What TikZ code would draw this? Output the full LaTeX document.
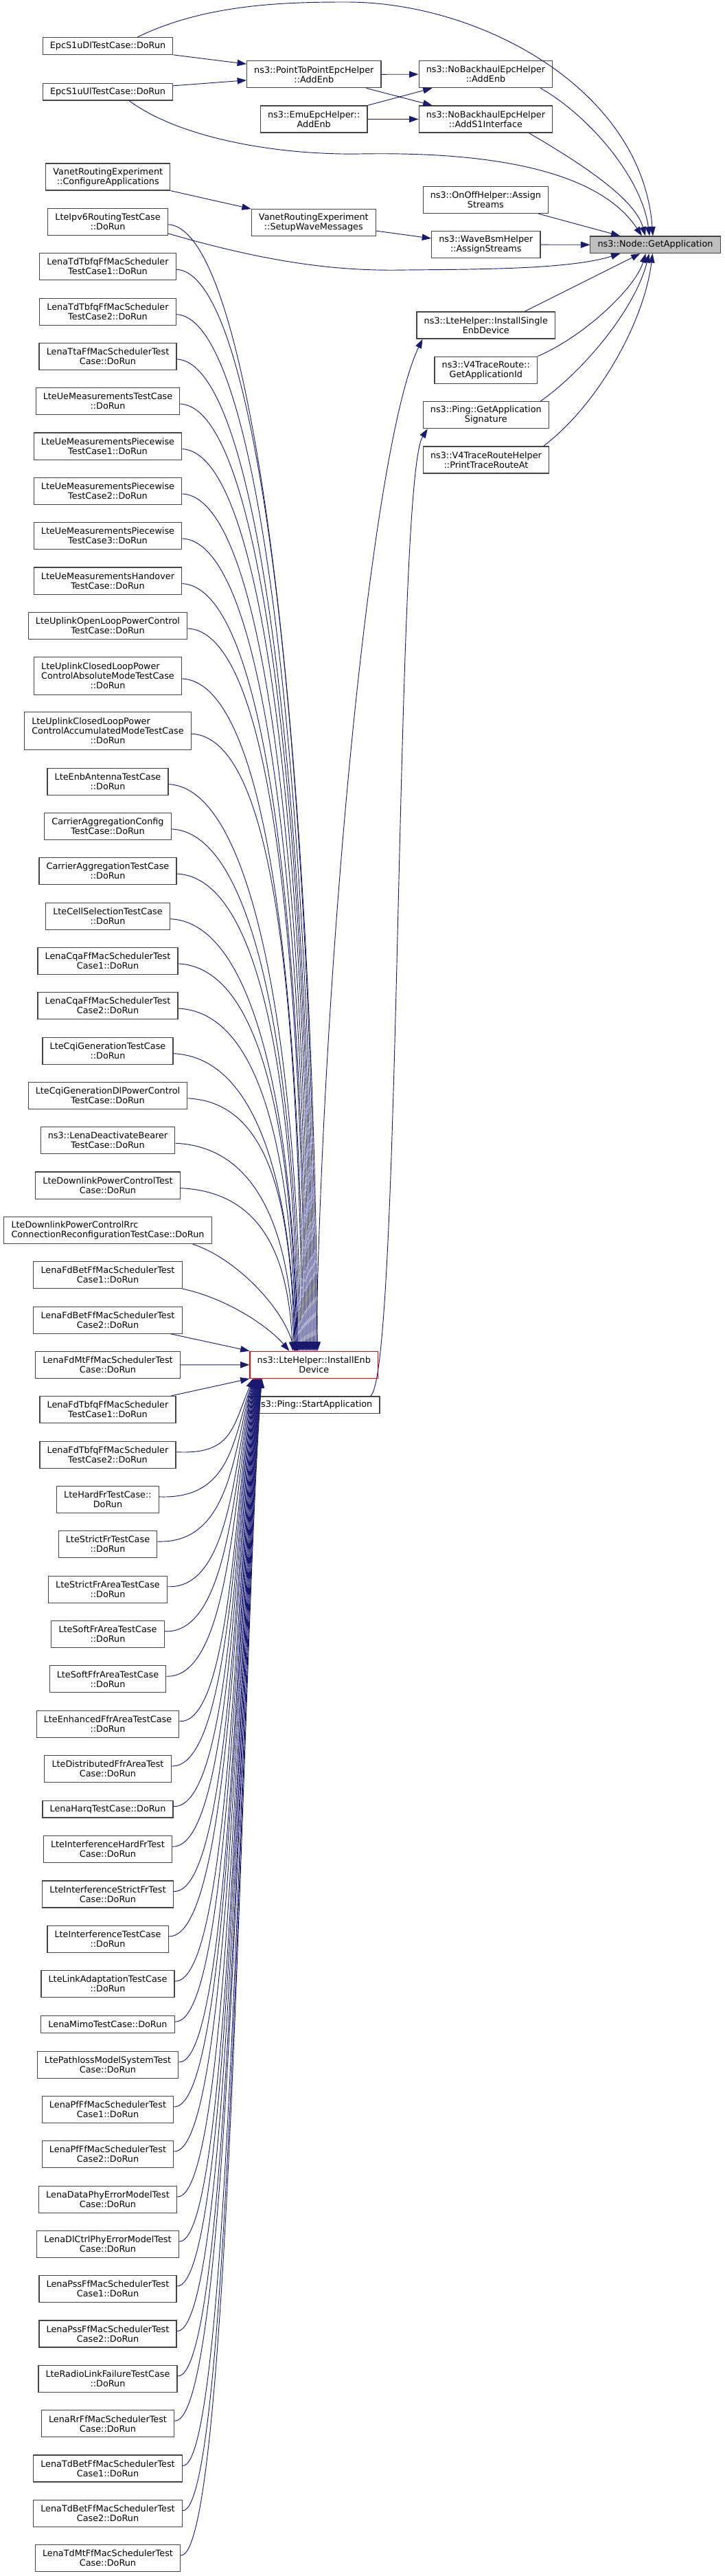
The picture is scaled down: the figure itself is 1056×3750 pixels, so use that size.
\documentclass[tikz,border=0pt]{standalone}
\usepackage{fontspec}
\setmainfont{DejaVu Sans}
\usetikzlibrary{arrows.meta,calc}
\definecolor{edgecol}{HTML}{191970}
\definecolor{boxcol}{HTML}{444444}
\definecolor{rootfill}{HTML}{BFBFBF}
\begin{document}
\begin{tikzpicture}[x=0.75pt,y=-0.75pt,
  box/.style={draw=boxcol, fill=white, line width=0.9pt, align=center, inner xsep=8pt, inner ysep=0pt, font=\fontsize{9.6}{10.5}\selectfont},
  b1/.style={box, minimum height=18.4pt},
  b2/.style={box, minimum height=29.3pt},
  b3/.style={box, minimum height=41.1pt},
  rootnode/.style={fill=rootfill},
  hl/.style={draw=red},
  conn/.style={draw=edgecol, line width=0.7pt, -{Triangle[length=10pt,width=7pt]}},
]
\useasboundingbox (0,0) rectangle (1056,3750);

% ---------- top / middle / right nodes ----------
\node[b1] (epcdl) at (157,67) {EpcS1uDlTestCase::DoRun};
\node[b1] (epcul) at (157,133.7) {EpcS1uUlTestCase::DoRun};
\node[b2] (p2p) at (457.3,108.3) {ns3::PointToPointEpcHelper\\::AddEnb};
\node[b2] (nbenb) at (707.4,108.2) {ns3::NoBackhaulEpcHelper\\::AddEnb};
\node[b2] (emu) at (457.2,173.5) {ns3::EmuEpcHelper::\\AddEnb};
\node[b2] (nbs1) at (707.4,173.5) {ns3::NoBackhaulEpcHelper\\::AddS1Interface};
\node[b2] (vanetconf) at (157.3,257.5) {VanetRoutingExperiment\\::ConfigureApplications};
\node[b2] (onoff) at (707.4,291) {ns3::OnOffHelper::Assign\\Streams};
\node[b2] (setupwave) at (456.8,324.2) {VanetRoutingExperiment\\::SetupWaveMessages};
\node[b2] (wavebsm) at (707.8,356.2) {ns3::WaveBsmHelper\\::AssignStreams};
\node[b1,rootnode] (getapp) at (954.5,356.3) {ns3::Node::GetApplication};
\node[b2] (installsingle) at (707.8,473.5) {ns3::LteHelper::InstallSingle\\EnbDevice};
\node[b2] (v4tr) at (707.8,538.8) {ns3::V4TraceRoute::\\GetApplicationId};
\node[b2] (pingsig) at (707.8,604.2) {ns3::Ping::GetApplication\\Signature};
\node[b2] (v4help) at (708,669.5) {ns3::V4TraceRouteHelper\\::PrintTraceRouteAt};
\node[b2,hl] (installenb) at (457.3,1986.8) {ns3::LteHelper::InstallEnb\\Device};
\node[b1] (pingstart) at (457.2,2045.3) {ns3::Ping::StartApplication};

% ---------- left column ----------
\node[b2] (ipv6) at (157,322.8) {LteIpv6RoutingTestCase\\::DoRun};
\node[b2] (tdtbfq1) at (157,388.2) {LenaTdTbfqFfMacScheduler\\TestCase1::DoRun};
\node[b2] (tdtbfq2) at (157,453.7) {LenaTdTbfqFfMacScheduler\\TestCase2::DoRun};
\node[b2] (tta) at (157,518.9) {LenaTtaFfMacSchedulerTest\\Case::DoRun};
\node[b2] (uemeas) at (157,584) {LteUeMeasurementsTestCase\\::DoRun};
\node[b2] (pw1) at (157,649.6) {LteUeMeasurementsPiecewise\\TestCase1::DoRun};
\node[b2] (pw2) at (157,714.9) {LteUeMeasurementsPiecewise\\TestCase2::DoRun};
\node[b2] (pw3) at (157,780) {LteUeMeasurementsPiecewise\\TestCase3::DoRun};
\node[b2] (handover) at (157,845.6) {LteUeMeasurementsHandover\\TestCase::DoRun};
\node[b2] (openloop) at (157,910.9) {LteUplinkOpenLoopPowerControl\\TestCase::DoRun};
\node[b3] (closedabs) at (157,984) {\rlap{LteUplinkClosedLoopPower}\phantom{ControlAbsoluteModeTestCase}\\ControlAbsoluteModeTestCase\\::DoRun};
\node[b3] (closedacc) at (157,1064.2) {\rlap{LteUplinkClosedLoopPower}\phantom{ControlAccumulatedModeTestCase}\\ControlAccumulatedModeTestCase\\::DoRun};
\node[b2] (enbant) at (157,1137.7) {LteEnbAntennaTestCase\\::DoRun};
\node[b2] (caconfig) at (157,1202.9) {CarrierAggregationConfig\\TestCase::DoRun};
\node[b2] (catest) at (157,1268) {CarrierAggregationTestCase\\::DoRun};
\node[b2] (cellsel) at (157,1333.7) {LteCellSelectionTestCase\\::DoRun};
\node[b2] (cqa1) at (157,1398.9) {LenaCqaFfMacSchedulerTest\\Case1::DoRun};
\node[b2] (cqa2) at (157,1464) {LenaCqaFfMacSchedulerTest\\Case2::DoRun};
\node[b2] (cqigen) at (157,1529.7) {LteCqiGenerationTestCase\\::DoRun};
\node[b2] (cqigendl) at (157,1594.9) {LteCqiGenerationDlPowerControl\\TestCase::DoRun};
\node[b2] (deactivate) at (157,1660.2) {ns3::LenaDeactivateBearer\\TestCase::DoRun};
\node[b2] (dlpc) at (157,1725.6) {LteDownlinkPowerControlTest\\Case::DoRun};
\node[b2] (rrc) at (157,1791.1) {\rlap{LteDownlinkPowerControlRrc}\phantom{ConnectionReconfigurationTestCase::DoRun}\\ConnectionReconfigurationTestCase::DoRun};
\node[b2] (fdbet1) at (157,1856) {LenaFdBetFfMacSchedulerTest\\Case1::DoRun};
\node[b2] (fdbet2) at (157,1921.7) {LenaFdBetFfMacSchedulerTest\\Case2::DoRun};
\node[b2] (fdmt) at (157,1986.9) {LenaFdMtFfMacSchedulerTest\\Case::DoRun};
\node[b2] (fdtbfq1) at (157,2052) {LenaFdTbfqFfMacScheduler\\TestCase1::DoRun};
\node[b2] (fdtbfq2) at (157,2117.7) {LenaFdTbfqFfMacScheduler\\TestCase2::DoRun};
\node[b2] (hardfr) at (157,2182.9) {LteHardFrTestCase::\\DoRun};
\node[b2] (strictfr) at (157,2248) {LteStrictFrTestCase\\::DoRun};
\node[b2] (strictfrarea) at (157,2313.7) {LteStrictFrAreaTestCase\\::DoRun};
\node[b2] (softfrarea) at (157,2378.9) {LteSoftFrAreaTestCase\\::DoRun};
\node[b2] (softffrarea) at (157,2444.2) {LteSoftFfrAreaTestCase\\::DoRun};
\node[b2] (enhanced) at (157,2509.7) {LteEnhancedFfrAreaTestCase\\::DoRun};
\node[b2] (distributed) at (157,2575) {LteDistributedFfrAreaTest\\Case::DoRun};
\node[b1] (harq) at (157,2633.7) {LenaHarqTestCase::DoRun};
\node[b2] (inthardfr) at (157,2692.1) {LteInterferenceHardFrTest\\Case::DoRun};
\node[b2] (intstrictfr) at (157,2757.5) {LteInterferenceStrictFrTest\\Case::DoRun};
\node[b2] (interference) at (157,2822.9) {LteInterferenceTestCase\\::DoRun};
\node[b2] (linkadapt) at (157,2888.1) {LteLinkAdaptationTestCase\\::DoRun};
\node[b1] (mimo) at (157,2947.1) {LenaMimoTestCase::DoRun};
\node[b2] (pathloss) at (157,3005.9) {LtePathlossModelSystemTest\\Case::DoRun};
\node[b2] (pf1) at (157,3071) {LenaPfFfMacSchedulerTest\\Case1::DoRun};
\node[b2] (pf2) at (157,3136) {LenaPfFfMacSchedulerTest\\Case2::DoRun};
\node[b2] (dataphy) at (157,3202) {LenaDataPhyErrorModelTest\\Case::DoRun};
\node[b2] (dlctrl) at (157,3267) {LenaDlCtrlPhyErrorModelTest\\Case::DoRun};
\node[b2] (pss1) at (157,3332) {LenaPssFfMacSchedulerTest\\Case1::DoRun};
\node[b2] (pss2) at (157,3397.5) {LenaPssFfMacSchedulerTest\\Case2::DoRun};
\node[b2] (radiolink) at (157,3463) {LteRadioLinkFailureTestCase\\::DoRun};
\node[b2] (rr) at (157,3528.3) {LenaRrFfMacSchedulerTest\\Case::DoRun};
\node[b2] (tdbet1) at (157,3593.5) {LenaTdBetFfMacSchedulerTest\\Case1::DoRun};
\node[b2] (tdbet2) at (157,3658.7) {LenaTdBetFfMacSchedulerTest\\Case2::DoRun};
\node[b2] (tdmt) at (157,3724) {LenaTdMtFfMacSchedulerTest\\Case::DoRun};

% ---------- top edges ----------
\draw[conn] (epcdl.south east) -- ($(p2p.north west)+(0,5)$);
\draw[conn] ($(epcul.north east)+(0,4)$) -- ($(p2p.south west)+(0,-11.6)$);
\draw[conn] (p2p.east) -- (nbenb.west);
\draw[conn] ($(p2p.south east)+(-22,0)$) -- ($(nbs1.north west)+(20,0)$);
\draw[conn] (emu.north east) -- ($(nbenb.south west)+(20,0)$);
\draw[conn] (emu.east) -- (nbs1.west);
\draw[conn] ($(epcdl.north)+(43,0)$) .. controls (300,5) and (420,3) .. (505,3)
   .. controls (700,3) and (935,130) .. ($(getapp.north)+(-3.5,0)$);
\draw[conn] ($(epcul.south)+(31,0)$) .. controls (260,200) and (400,226) .. (525,224)
   .. controls (650,222) and (860,230) .. ($(getapp.north)+(-19.5,0)$);
\draw[conn] ($(nbenb.south east)+(-18,0)$) .. controls (860,170) and (935,260) .. ($(getapp.north)+(-8.5,0)$);
\draw[conn] ($(nbs1.south east)+(-35,0)$) .. controls (850,240) and (925,290) .. ($(getapp.north)+(-14.5,0)$);
\draw[conn] ($(onoff.south east)+(-15,0)$) -- ($(getapp.north west)+(44,0)$);
\draw[conn] (wavebsm.east) -- (getapp.west);
\draw[conn] ($(setupwave.north east)+(0,32)$) -- ($(wavebsm.north west)+(0,11)$);
\draw[conn] (vanetconf.south east) -- (setupwave.north west);
\draw[conn] ($(ipv6.south east)+(0,-3)$) .. controls (400,385) and (500,395) .. (592,393)
   .. controls (700,392) and (830,392) .. ($(getapp.south west)+(44,0)$);
\draw[conn] ($(installsingle.north east)+(-45,0)$) -- ($(getapp.south)+(-22,0)$);
\draw[conn] (v4tr.north east) .. controls (850,490) and (925,420) .. ($(getapp.south)+(-14,0)$);
\draw[conn] ($(pingsig.north east)+(-12.7,0)$) .. controls (850,540) and (925,450) .. ($(getapp.south)+(-9,0)$);
\draw[conn] ($(v4help.north east)+(-8.6,0)$) .. controls (870,590) and (938,470) .. ($(getapp.south)+(-4,0)$);
\draw[conn] ($(installenb.north)+(3,0)$) .. controls (470,1400) and (540,650) .. ($(installsingle.south west)+(9,0)$);
\draw[conn] ($(pingstart.north east)+(-14,0)$) .. controls (585,2000) and (575,700) .. ($(pingsig.south west)+(7,0)$);

% ---------- left column -> InstallEnbDevice ----------
\foreach \nm/\off/\L in {ipv6/99/820, tdtbfq1/97/788, tdtbfq2/95/755, tta/93/723,
  uemeas/91/690, pw1/89/657, pw2/87/625, pw3/85/592, handover/83/559, openloop/81/527,
  closedabs/79/490, closedacc/77/450, enbant/75/413, caconfig/73/380, catest/71/348,
  cellsel/70/315, cqa1/69/283, cqa2/68/250, cqigen/67/217, cqigendl/66/185,
  deactivate/65/152, dlpc/63/119}{
  \draw[conn] ([yshift=-3pt]\nm.east) .. controls +(130,6) and +(-6,-\L) .. ($(installenb.north west)+(\off,0)$);
}
\draw[conn] ($(rrc.south east)+(-28,0)$) .. controls (340,1830) and (410,1900) .. ($(installenb.north west)+(66,0)$);
\draw[conn] (fdbet1.south east) .. controls (330,1890) and (390,1930) .. ($(installenb.north west)+(58,0)$);
\draw[conn] ($(fdbet2.south east)+(-17,0)$) -- (installenb.north west);
\draw[conn] (fdmt.east) -- (installenb.west);
\draw[conn] ($(fdtbfq1.north east)+(-7,0)$) -- (installenb.south west);
\foreach \nm/\off/\L in {fdtbfq2/5/72, hardfr/6/85, strictfr/6.5/98, strictfrarea/7/111,
  softfrarea/7.5/124, softffrarea/8/137, enhanced/8.5/150, distributed/9/163, harq/9.5/175,
  inthardfr/10/187, intstrictfr/10.5/200, interference/11/213, linkadapt/11.5/226,
  mimo/12/238, pathloss/12.5/250, pf1/13/263, pf2/13.5/276, dataphy/14/289,
  dlctrl/14.5/302, pss1/15/315, pss2/15.5/328, radiolink/16/341, rr/16.5/354,
  tdbet1/17/367, tdbet2/17.5/380, tdmt/18/393}{
  \draw[conn] ([yshift=3pt]\nm.east) .. controls (\nm.east -| 338,0) and +(-30,\L) .. ($(installenb.south west)+(\off,0)$);
}
\end{tikzpicture}
\end{document}
